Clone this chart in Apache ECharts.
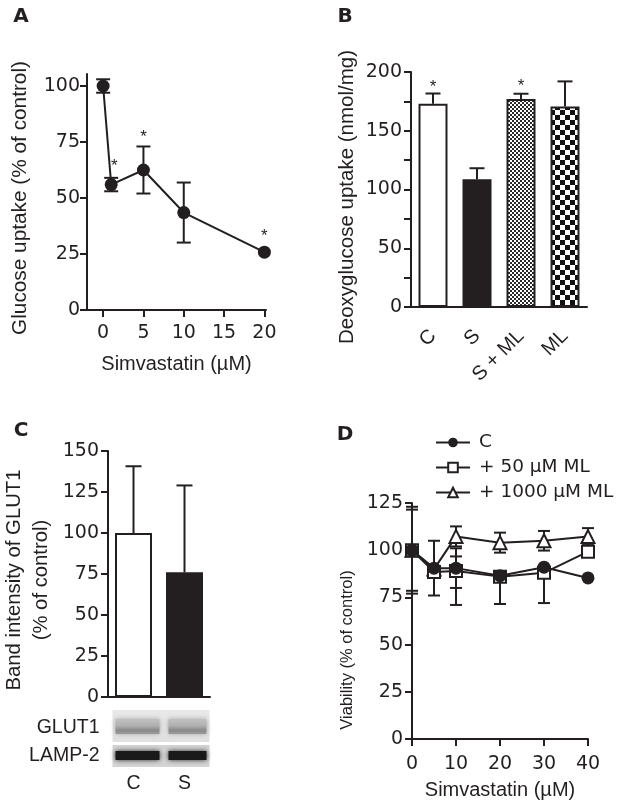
<!DOCTYPE html>
<html><head><meta charset="utf-8">
<script src="https://cdn.jsdelivr.net/npm/echarts@6/dist/echarts.min.js"></script>
<style>html,body{margin:0;padding:0;background:#fff}#c{width:621px;height:808px}</style>
</head><body><div id="c"></div>
<script>
// ---------- Panel A: glucose uptake vs simvastatin ----------
const aX = [0, 1, 5, 10, 20];
const aY = [100, 56, 62.5, 43.5, 25.8];
const aErr = [3, 3, 10.5, 13.4, 0];
const aStarX = [1.4, 5, 20];
const aStarY = [66, 79, 34.5];
const aXTicks = [0, 5, 10, 15, 20];
const aYTicks = [0, 25, 50, 75, 100];

// ---------- Panel B: deoxyglucose uptake ----------
const bCats = ['C', 'S', 'S + ML', 'ML'];
const bVals = [173, 108.7, 177, 170.6];
const bErr = [8.7, 9.4, 4.5, 21.4];
const bStarCat = [0, 2];
const bStarY = [190, 191];
const bYTicks = [0, 25, 50, 75, 100, 125, 150, 175, 200];
const bYLabels = [0, 50, 100, 150, 200];

// ---------- Panel C: GLUT1 band intensity ----------
const cCats = ['C', 'S'];
const cVals = [100, 76];
const cErr = [40.7, 53];
const cYTicks = [0, 25, 50, 75, 100, 125, 150];
const blotRows = ['GLUT1', 'LAMP-2'];

// ---------- Panel D: viability ----------
const dX = [0, 5, 10, 20, 30, 40];
const dNames = ['C', '+ 50 µM ML', '+ 1000 µM ML'];
const dC = [100, 90.5, 90.5, 86.5, 91, 85.3];
const dCLo = [21.5, 14.5, 10.5, 0, 0, 0];
const dCHi = [21.5, 14.5, 10.5, 0, 0, 0];
const dM50 = [100, 88.5, 89, 86, 88, 99.2];
const dM50Lo = [23, 0, 18, 14.5, 16, 0];
const dM50Hi = [23, 0, 7.7, 0, 0, 0];
const dM1000 = [100, 90, 107.3, 104, 105, 107.2];
const dM1000Lo = [0, 0, 5.3, 5.3, 5.2, 4.5];
const dM1000Hi = [0, 0, 5.3, 5.3, 5.2, 4.5];
const dXTicks = [0, 10, 20, 30, 40];
const dYTicks = [0, 25, 50, 75, 100, 125];

const FONT = "'Liberation Sans', Arial, Helvetica, sans-serif";
const NUMFONT = "'DejaVu Sans', 'Liberation Sans', sans-serif";
const INK = '#231f20';
const TICK_FS = 19;

function checker(cell, c1, c2) {
  const cv = document.createElement('canvas');
  cv.width = cv.height = cell * 2;
  const g = cv.getContext('2d');
  g.fillStyle = c2; g.fillRect(0, 0, cell * 2, cell * 2);
  g.fillStyle = c1; g.fillRect(0, 0, cell, cell); g.fillRect(cell, cell, cell, cell);
  return cv;
}

function errSeries(xi, yi, data, capW, z) {
  return {
    type: 'custom', xAxisIndex: xi, yAxisIndex: yi, z: z || 2, silent: true,
    data: data,
    renderItem: function (params, api) {
      const x = api.value(0), y = api.value(1), lo = api.value(2), hi = api.value(3);
      const pLo = api.coord([x, y - lo]), pHi = api.coord([x, y + hi]);
      const st = { stroke: INK, lineWidth: 2 };
      const ch = [];
      if (lo > 0 || hi > 0) ch.push({ type: 'line', shape: { x1: pLo[0], y1: pLo[1], x2: pHi[0], y2: pHi[1] }, style: st });
      if (hi > 0) ch.push({ type: 'line', shape: { x1: pHi[0] - capW / 2, y1: pHi[1], x2: pHi[0] + capW / 2, y2: pHi[1] }, style: st });
      if (lo > 0) ch.push({ type: 'line', shape: { x1: pLo[0] - capW / 2, y1: pLo[1], x2: pLo[0] + capW / 2, y2: pLo[1] }, style: st });
      return { type: 'group', children: ch };
    }
  };
}

function starSeries(xi, yi, data) {
  return {
    type: 'custom', xAxisIndex: xi, yAxisIndex: yi, z: 5, silent: true, data: data,
    renderItem: function (params, api) {
      const p = api.coord([api.value(0), api.value(1)]);
      return { type: 'text', x: p[0], y: p[1] + 4, style: { text: '*', fontSize: 17, fontFamily: FONT, fill: INK, align: 'center', verticalAlign: 'middle' } };
    }
  };
}

function valAxis(gi, min, max, ticks, labels, margin, extra) {
  return Object.assign({
    type: 'value', gridIndex: gi, min: min, max: max,
    axisLine: { show: true, onZero: false, lineStyle: { color: INK, width: 2 } },
    axisTick: { show: true, length: 7, customValues: ticks, lineStyle: { color: INK, width: 2 } },
    axisLabel: { customValues: labels || ticks, fontSize: TICK_FS, fontFamily: NUMFONT, color: INK, margin: margin },
    splitLine: { show: false }
  }, extra || {});
}

function nameStyle(fs, extra) { return Object.assign({ fontSize: fs, fontFamily: FONT, color: INK }, extra || {}); }

const chart = echarts.init(document.getElementById('c'), null, { renderer: 'canvas' });

const option = {
  backgroundColor: '#fff',
  animation: false,
  textStyle: { fontFamily: FONT, color: INK },
  grid: [
    { left: 87, top: 74, width: 179, height: 236 },
    { left: 411, top: 72, width: 176, height: 235 },
    { left: 107, top: 451, width: 103, height: 246 },
    { left: 412, top: 503, width: 176, height: 236 }
  ],
  xAxis: [
    valAxis(0, -2, 20.2, aXTicks, aXTicks, 14, { name: 'Simvastatin (µM)', nameLocation: 'middle', nameGap: 44, nameTextStyle: nameStyle(20) }),
    { type: 'category', gridIndex: 1, data: bCats,
      axisLine: { onZero: false, lineStyle: { color: INK, width: 2 } },
      axisTick: { alignWithLabel: true, length: 7, lineStyle: { color: INK, width: 2 } },
      axisLabel: { rotate: 45, fontSize: 20, fontFamily: FONT, color: INK, margin: 26 } },
    { type: 'category', gridIndex: 2, data: cCats,
      axisLine: { onZero: false, lineStyle: { color: INK, width: 2 } },
      axisTick: { alignWithLabel: true, length: 8, lineStyle: { color: INK, width: 2 } },
      axisLabel: { fontSize: 19.5, fontFamily: FONT, color: INK, margin: 77 } },
    valAxis(3, 0, 40, dXTicks, dXTicks, 16, { name: 'Simvastatin (µM)', nameLocation: 'middle', nameGap: 41, nameTextStyle: nameStyle(20) })
  ],
  yAxis: [
    valAxis(0, 0, 105.36, aYTicks, aYTicks, 7, { name: 'Glucose uptake (% of control)', nameLocation: 'middle', nameGap: 56, nameTextStyle: nameStyle(20.8, { padding: [0, 12, 0, 0] }) }),
    valAxis(1, 0, 200, bYTicks, bYLabels, 9, { name: 'Deoxyglucose uptake (nmol/mg)', nameLocation: 'middle', nameGap: 53, nameTextStyle: nameStyle(20.5, { padding: [0, 15, 0, 0] }) }),
    valAxis(2, 0, 150, cYTicks, cYTicks, 9, { name: 'Band intensity of GLUT1\n(% of control)', nameLocation: 'middle', nameGap: 53, nameTextStyle: nameStyle(20.3, { lineHeight: 27, padding: [0, 12, 0, 0] }) }),
    valAxis(3, 0, 125, dYTicks, dYTicks, 9, { name: 'Viability (% of control)', nameLocation: 'middle', nameGap: 56, nameTextStyle: nameStyle(16.5, { padding: [0, 58, 0, 0] }) })
  ],
  legend: {
    left: 430, top: 428, orient: 'vertical', itemWidth: 34, itemHeight: 12, itemGap: 6,
    textStyle: { fontSize: 18.5, fontFamily: NUMFONT, color: INK, padding: [0, 0, 0, 4] },
    data: dNames, selectedMode: false
  },
  series: [
    // Panel A
    errSeries(0, 0, aX.map((x, i) => [x, aY[i], aErr[i], aErr[i]]), 14, 1),
    { type: 'line', xAxisIndex: 0, yAxisIndex: 0, data: aX.map((x, i) => [x, aY[i]]),
      symbol: 'circle', symbolSize: 13, itemStyle: { color: INK }, lineStyle: { color: INK, width: 2 }, z: 3 },
    starSeries(0, 0, aStarX.map((x, i) => [x, aStarY[i]])),
    // Panel B
    { type: 'bar', xAxisIndex: 1, yAxisIndex: 1, barWidth: 29, z: 2,
      data: bVals.map((v, i) => ({ value: v, itemStyle: {
        color: [ '#ffffff', INK, { image: checker(2, '#2a2a2a', '#ffffff'), repeat: 'repeat' }, { image: checker(5, '#111111', '#ffffff'), repeat: 'repeat' } ][i],
        borderColor: INK, borderWidth: 2 } })) },
    errSeries(1, 1, bVals.map((v, i) => [i, v, 0, bErr[i]]), 15, 1),
    starSeries(1, 1, bStarCat.map((c, i) => [c, bStarY[i]])),
    // Panel C
    { type: 'bar', xAxisIndex: 2, yAxisIndex: 2, barWidth: 37, z: 2,
      data: cVals.map((v, i) => ({ value: v, itemStyle: { color: ['#ffffff', INK][i], borderColor: INK, borderWidth: 2 } })) },
    errSeries(2, 2, cVals.map((v, i) => [i, v, 0, cErr[i]]), 16, 1),
    // Panel D
    errSeries(3, 3, dX.map((x, i) => [x, dM1000[i], dM1000Lo[i], dM1000Hi[i]]), 12, 1),
    errSeries(3, 3, dX.map((x, i) => [x, dM50[i], dM50Lo[i], dM50Hi[i]]), 12, 1),
    errSeries(3, 3, dX.map((x, i) => [x, dC[i], dCLo[i], dCHi[i]]), 12, 1),
    { name: dNames[2], type: 'line', xAxisIndex: 3, yAxisIndex: 3, data: dX.map((x, i) => [x, dM1000[i]]),
      symbol: 'triangle', symbolSize: 13, itemStyle: { color: '#fff', borderColor: INK, borderWidth: 2 }, lineStyle: { color: INK, width: 2 }, z: 3 },
    { name: dNames[1], type: 'line', xAxisIndex: 3, yAxisIndex: 3, data: dX.map((x, i) => [x, dM50[i]]),
      symbol: 'rect', symbolSize: 12, itemStyle: { color: '#fff', borderColor: INK, borderWidth: 2 }, lineStyle: { color: INK, width: 2 }, z: 4 },
    { name: dNames[0], type: 'line', xAxisIndex: 3, yAxisIndex: 3, data: dX.map((x, i) => [x, dC[i]]),
      symbol: 'circle', symbolSize: 13, itemStyle: { color: INK }, lineStyle: { color: INK, width: 2 }, z: 5 }
  ]
};
chart.setOption(option);

// Panel letters, blot illustration and blot row labels
const p0 = chart.convertToPixel({ gridIndex: 2 }, [0, 0]);
const p1 = chart.convertToPixel({ gridIndex: 2 }, [1, 0]);
const base = p0[1];
const bx0 = p0[0] - 21, bx1 = p1[0] + 25;
const g1y = base + 13, g1h = 32, l2y = base + 48, l2h = 22;
const lanes = [[p0[0] - 18, p0[0] + 26], [p1[0] - 16, p1[0] + 22]];
const blot = [
  { type: 'rect', shape: { x: bx0, y: g1y, width: bx1 - bx0, height: g1h },
    style: { fill: new echarts.graphic.LinearGradient(0, 0, 0, 1, [
      { offset: 0, color: '#e9e9e9' }, { offset: 1, color: '#e0e0e0' }]) } },
  { type: 'rect', shape: { x: bx0, y: l2y, width: bx1 - bx0, height: l2h }, style: { fill: '#d4d4d4' } }
];
lanes.forEach(function (ln) {
  blot.push({ type: 'rect', shape: { x: ln[0], y: g1y + 9, width: ln[1] - ln[0], height: 15 },
    style: { fill: new echarts.graphic.LinearGradient(0, 0, 0, 1, [
      { offset: 0, color: '#c2c2c2' }, { offset: 0.45, color: '#b0b0b0' }, { offset: 0.75, color: '#8a8a8a' }, { offset: 1, color: '#9c9c9c' }]),
      shadowBlur: 5, shadowColor: '#a8a8a8' } });
  blot.push({ type: 'rect', shape: { x: ln[0], y: l2y + 6, width: ln[1] - ln[0], height: 9 },
    style: { fill: '#1a1a1a', shadowBlur: 5, shadowColor: '#2a2a2a' } });
});
const letters = [['A', 21, 17], ['B', 345, 17], ['C', 21, 431], ['D', 345, 435]].map(function (t) {
  return { type: 'text', x: t[1], y: t[2], style: { text: t[0], fontSize: 20, fontWeight: 'bold', fontFamily: NUMFONT, fill: INK, align: 'center', verticalAlign: 'middle' } };
});
const rowLabels = blotRows.map(function (t, i) {
  return { type: 'text', x: bx0 - 13, y: i === 0 ? g1y + g1h / 2 + 2 : l2y + l2h / 2, style: { text: t, fontSize: 19.5, fontFamily: FONT, fill: INK, align: 'right', verticalAlign: 'middle' } };
});
chart.setOption({ graphic: letters.concat(blot).concat(rowLabels) });
</script>
</body></html>
